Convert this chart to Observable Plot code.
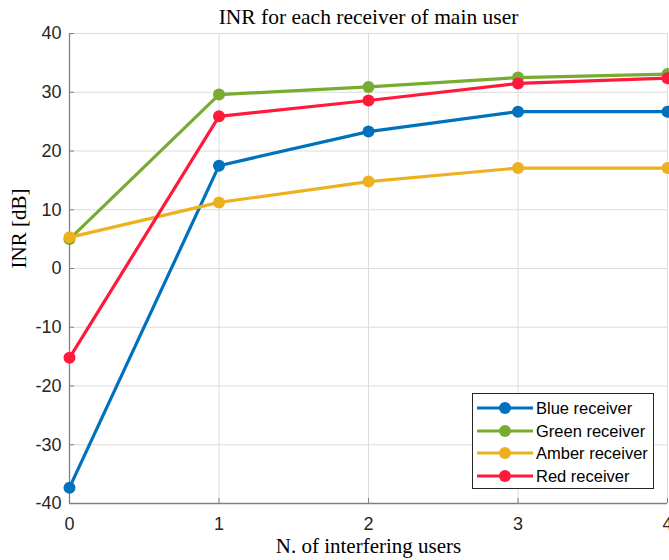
<!DOCTYPE html>
<html>
<head>
<meta charset="utf-8">
<script src="https://cdn.jsdelivr.net/npm/d3@7"></script>
<script src="https://cdn.jsdelivr.net/npm/@observablehq/plot@0.6"></script>
<style>
  body { margin: 0; background: #fff; }
  #wrap { position: relative; width: 669px; height: 560px; }
  #legend { position: absolute; left: 472px; top: 393px; width: 180px; height: 94px;
    border: 1px solid #262626; background: #fff; font-family: "Liberation Sans", Arial, sans-serif;
    font-size: 16.5px; color: #000; }
  .entry { position: absolute; left: 0; height: 20px; display: flex; align-items: center; }
  .entry svg { display: block; }
  .entry span { margin-left: 3px; white-space: nowrap; }
</style>
</head>
<body>
<div id="wrap"></div>
<script>
const title = "INR for each receiver of main user";
const xLabel = "N. of interfering users";
const yLabel = "INR [dB]";
const users = [0, 1, 2, 3, 4];
const xTicks = [0, 1, 2, 3, 4];
const yTicks = [-40, -30, -20, -10, 0, 10, 20, 30, 40];
const seriesNames = ["Blue receiver", "Green receiver", "Amber receiver", "Red receiver"];
const seriesColors = ["#0072BD", "#77AC30", "#EDB120", "#FF1A3C"];
const blue = [-37.3, 17.5, 23.3, 26.7, 26.7];
const green = [5.0, 29.6, 30.9, 32.5, 33.1];
const amber = [5.3, 11.25, 14.8, 17.1, 17.1];
const red = [-15.2, 25.9, 28.6, 31.5, 32.4];
const seriesValues = [blue, green, amber, red];

const data = seriesNames.flatMap((name, si) =>
  users.map((u, i) => ({series: name, color: seriesColors[si], x: u, y: seriesValues[si][i]})));

const sans = "'Liberation Sans', Arial, sans-serif";
const serif = "'Liberation Serif', 'Times New Roman', serif";
const axisColor = "#808080";

const marks = [
  Plot.gridX(xTicks, {stroke: "#dcdcdc", strokeOpacity: 1}),
  Plot.gridY(yTicks, {stroke: "#dcdcdc", strokeOpacity: 1}),
  Plot.axisX(xTicks, {tickSize: 0, tickPadding: 14, tickFormat: d => String(d), fontSize: 18, fontFamily: sans, fill: "#262626", label: null}),
  Plot.axisY(yTicks, {tickSize: 0, tickPadding: 8, tickFormat: d => String(d), fontSize: 18, fontFamily: sans, fill: "#262626", label: null}),
  Plot.axisX(xTicks, {tickSize: -5, text: null, stroke: axisColor, label: null}),
  Plot.axisY(yTicks, {tickSize: -5, text: null, stroke: axisColor, label: null}),
  Plot.ruleY([-40], {stroke: axisColor, strokeWidth: 1.3}),
  Plot.ruleX([0], {stroke: axisColor, strokeWidth: 1.3}),
];
seriesNames.forEach((name, si) => {
  const d = data.filter(r => r.series === name);
  marks.push(Plot.line(d, {x: "x", y: "y", stroke: seriesColors[si], strokeWidth: 3.2}));
  marks.push(Plot.dot(d, {x: "x", y: "y", r: 6, fill: seriesColors[si], stroke: "none"}));
});
marks.push(Plot.text([title], {frameAnchor: "top", text: d => d, dy: -16, fontSize: 21.5, fontFamily: serif, fill: "#000", lineAnchor: "middle"}));
marks.push(Plot.text([xLabel], {frameAnchor: "bottom", text: d => d, dy: 43, fontSize: 21, fontFamily: serif, fill: "#000", lineAnchor: "middle"}));
marks.push(Plot.text([yLabel], {frameAnchor: "left", text: d => d, dx: -50, rotate: -90, fontSize: 21, fontFamily: serif, fill: "#000", lineAnchor: "middle"}));

const chart = Plot.plot({
  width: 669,
  height: 560,
  marginLeft: 69,
  marginRight: 2,
  marginTop: 33,
  marginBottom: 57,
  style: {background: "#fff", overflow: "hidden"},
  x: {domain: [0, 4], axis: null},
  y: {domain: [-40, 40], axis: null},
  marks
});
const wrap = document.getElementById("wrap");
wrap.appendChild(chart);

const legend = document.createElement("div");
legend.id = "legend";
const entryTops = [4, 27, 49, 72];
seriesNames.forEach((name, si) => {
  const e = document.createElement("div");
  e.className = "entry";
  e.style.top = entryTops[si] + "px";
  e.style.left = "4px";
  e.innerHTML = `<svg width="56" height="20"><line x1="0" y1="10" x2="56" y2="10" stroke="${seriesColors[si]}" stroke-width="3.2"/><circle cx="28" cy="10" r="6" fill="${seriesColors[si]}"/></svg><span>${name}</span>`;
  legend.appendChild(e);
});
wrap.appendChild(legend);
</script>
</body>
</html>
